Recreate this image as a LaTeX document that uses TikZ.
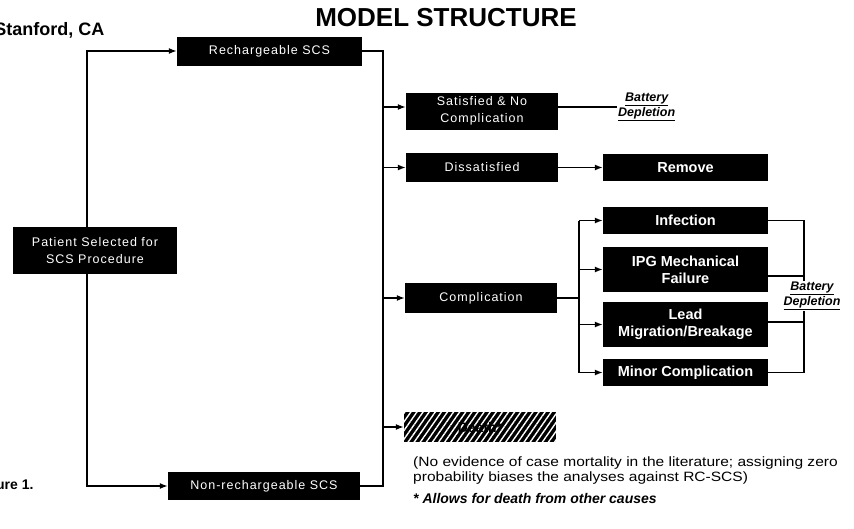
\documentclass[tikz,border=0pt]{standalone}
\usepackage{fontspec}
\setmainfont{Liberation Sans}
\newfontfamily\thinfont[LetterSpace=8]{Liberation Sans}
\newfontfamily\notefont[FakeStretch=1.15]{Liberation Sans}
\usetikzlibrary{positioning, arrows.meta, patterns.meta}

\begin{document}
\begin{tikzpicture}[x=1pt, y=-1pt,
    line/.style={line width=1.4pt},
    arrow/.style={-{Latex[length=8pt, width=6pt]}, line width=1.4pt},
    box/.style={fill=black, text=white, align=center, inner sep=1pt,
                font=\thinfont\fontsize{12.5}{17}\selectfont},
    boldbox/.style={fill=black, text=white, align=center, inner sep=1pt,
                font=\bfseries\fontsize{14.5}{17}\selectfont},
    depletion/.style={align=center, fill=white, inner sep=1pt,
                font=\bfseries\itshape\fontsize{12.5}{15}\selectfont}]

    \useasboundingbox (0,0) rectangle (854,528);

    % Title and margin texts
    \node[font=\bfseries\fontsize{26}{28}\selectfont] (title) at (446,18) {MODEL STRUCTURE};
    \node[anchor=east, font=\bfseries\fontsize{18}{20}\selectfont] (place) at (108,30) {Stanford, CA};
    \node[anchor=east, font=\bfseries\fontsize{14}{16}\selectfont] (figlabel) at (37,486) {Figure 1.};

    % First level
    \node[box, minimum width=164pt, minimum height=47pt] (patient) at (95,250.5) {Patient Selected for\\SCS Procedure};
    \node[box, minimum width=185pt, minimum height=29pt] (rech) at (269.5,51) {Rechargeable SCS};
    \node[box, minimum width=192pt, minimum height=28pt] (nonrech) at (264,486) {Non-rechargeable SCS};

    % Second level
    \node[box, minimum width=152pt, minimum height=37pt] (satis) at (482,111) {Satisfied \& No\\Complication};
    \node[box, minimum width=152pt, minimum height=29pt] (dissat) at (482,167.5) {Dissatisfied};
    \node[box, minimum width=152pt, minimum height=30pt] (compl) at (481,298) {Complication};
    \node[minimum width=152pt, minimum height=30pt, fill=black, inner sep=1pt,
          postaction={pattern={Lines[angle=55, distance=5pt, line width=1.4pt]}, pattern color=white},
          font=\bfseries\fontsize{14}{16}\selectfont] (death) at (480,427) {Death*};

    % Third level
    \node[boldbox, minimum width=165pt, minimum height=27pt] (remove) at (685.5,167.5) {Remove};
    \node[boldbox, minimum width=165pt, minimum height=27pt] (infect) at (685.5,220.5) {Infection};
    \node[boldbox, minimum width=165pt, minimum height=45pt] (ipg) at (685.5,269.5) {IPG Mechanical\\Failure};
    \node[boldbox, minimum width=165pt, minimum height=45pt] (lead) at (685.5,324.5) {Lead\\Migration/Breakage};
    \node[boldbox, minimum width=165pt, minimum height=27pt] (minor) at (685.5,372.5) {Minor Complication};

    % Branch points
    \coordinate (rt) at (383,51);
    \coordinate (rb) at (383,486);
    \coordinate (ct) at (579,298);
    \coordinate (bx) at (804,296);

    % Patient to devices
    \draw[arrow] ([xshift=-8pt]patient.north) |- (rech);
    \draw[arrow] ([xshift=-8pt]patient.south) |- (nonrech);

    % Devices to outcomes
    \draw[line] (rech.east) -- (rt) -- (rb) -- (nonrech.east);
    \draw[arrow] ([yshift=4pt]rt |- satis) -- ([yshift=4pt]satis.west);
    \draw[arrow] (rt |- dissat) -- (dissat);
    \draw[arrow] (rt |- compl) -- (compl);
    \draw[arrow] (rt |- death) -- (death);
    \draw[arrow] (dissat) -- (remove);

    % Complications
    \draw[line] (compl.east) -- (ct);
    \draw[line] (ct |- infect) -- (ct |- minor);
    \draw[arrow] (ct |- infect) -- (infect);
    \draw[arrow] (ct |- ipg) -- (ipg);
    \draw[arrow] (ct |- lead) -- (lead);
    \draw[arrow] (ct |- minor) -- (minor);

    % Battery depletion
    \draw[line] (infect.east) -- (infect.east -| bx) -- (minor.east -| bx) -- (minor.east);
    \draw[line] ([yshift=-6.5pt]ipg.east) -- ([yshift=-6.5pt]ipg.east -| bx);
    \draw[line] ([yshift=2.5pt]lead.east) -- ([yshift=2.5pt]lead.east -| bx);
    \node[depletion] (deplete2) at (812,296) {\underline{Battery}\\\underline{Depletion}};
    \node[depletion, anchor=west] (deplete1) at (617,107) {\underline{Battery}\\\underline{Depletion}};
    \draw[line] ([yshift=4pt]satis.east) -- (deplete1.west);

    % Notes
    \node[anchor=north west, align=left, inner sep=0pt, font=\notefont\fontsize{13.5}{15}\selectfont] (note) at (413,457)
        {(No evidence of case mortality in the literature; assigning zero\\probability biases the analyses against RC-SCS)};
    \node[anchor=north west, inner sep=0pt, font=\bfseries\itshape\fontsize{14}{15}\selectfont] (footnote) at (413,493)
        {* Allows for death from other causes};

\end{tikzpicture}
\end{document}
